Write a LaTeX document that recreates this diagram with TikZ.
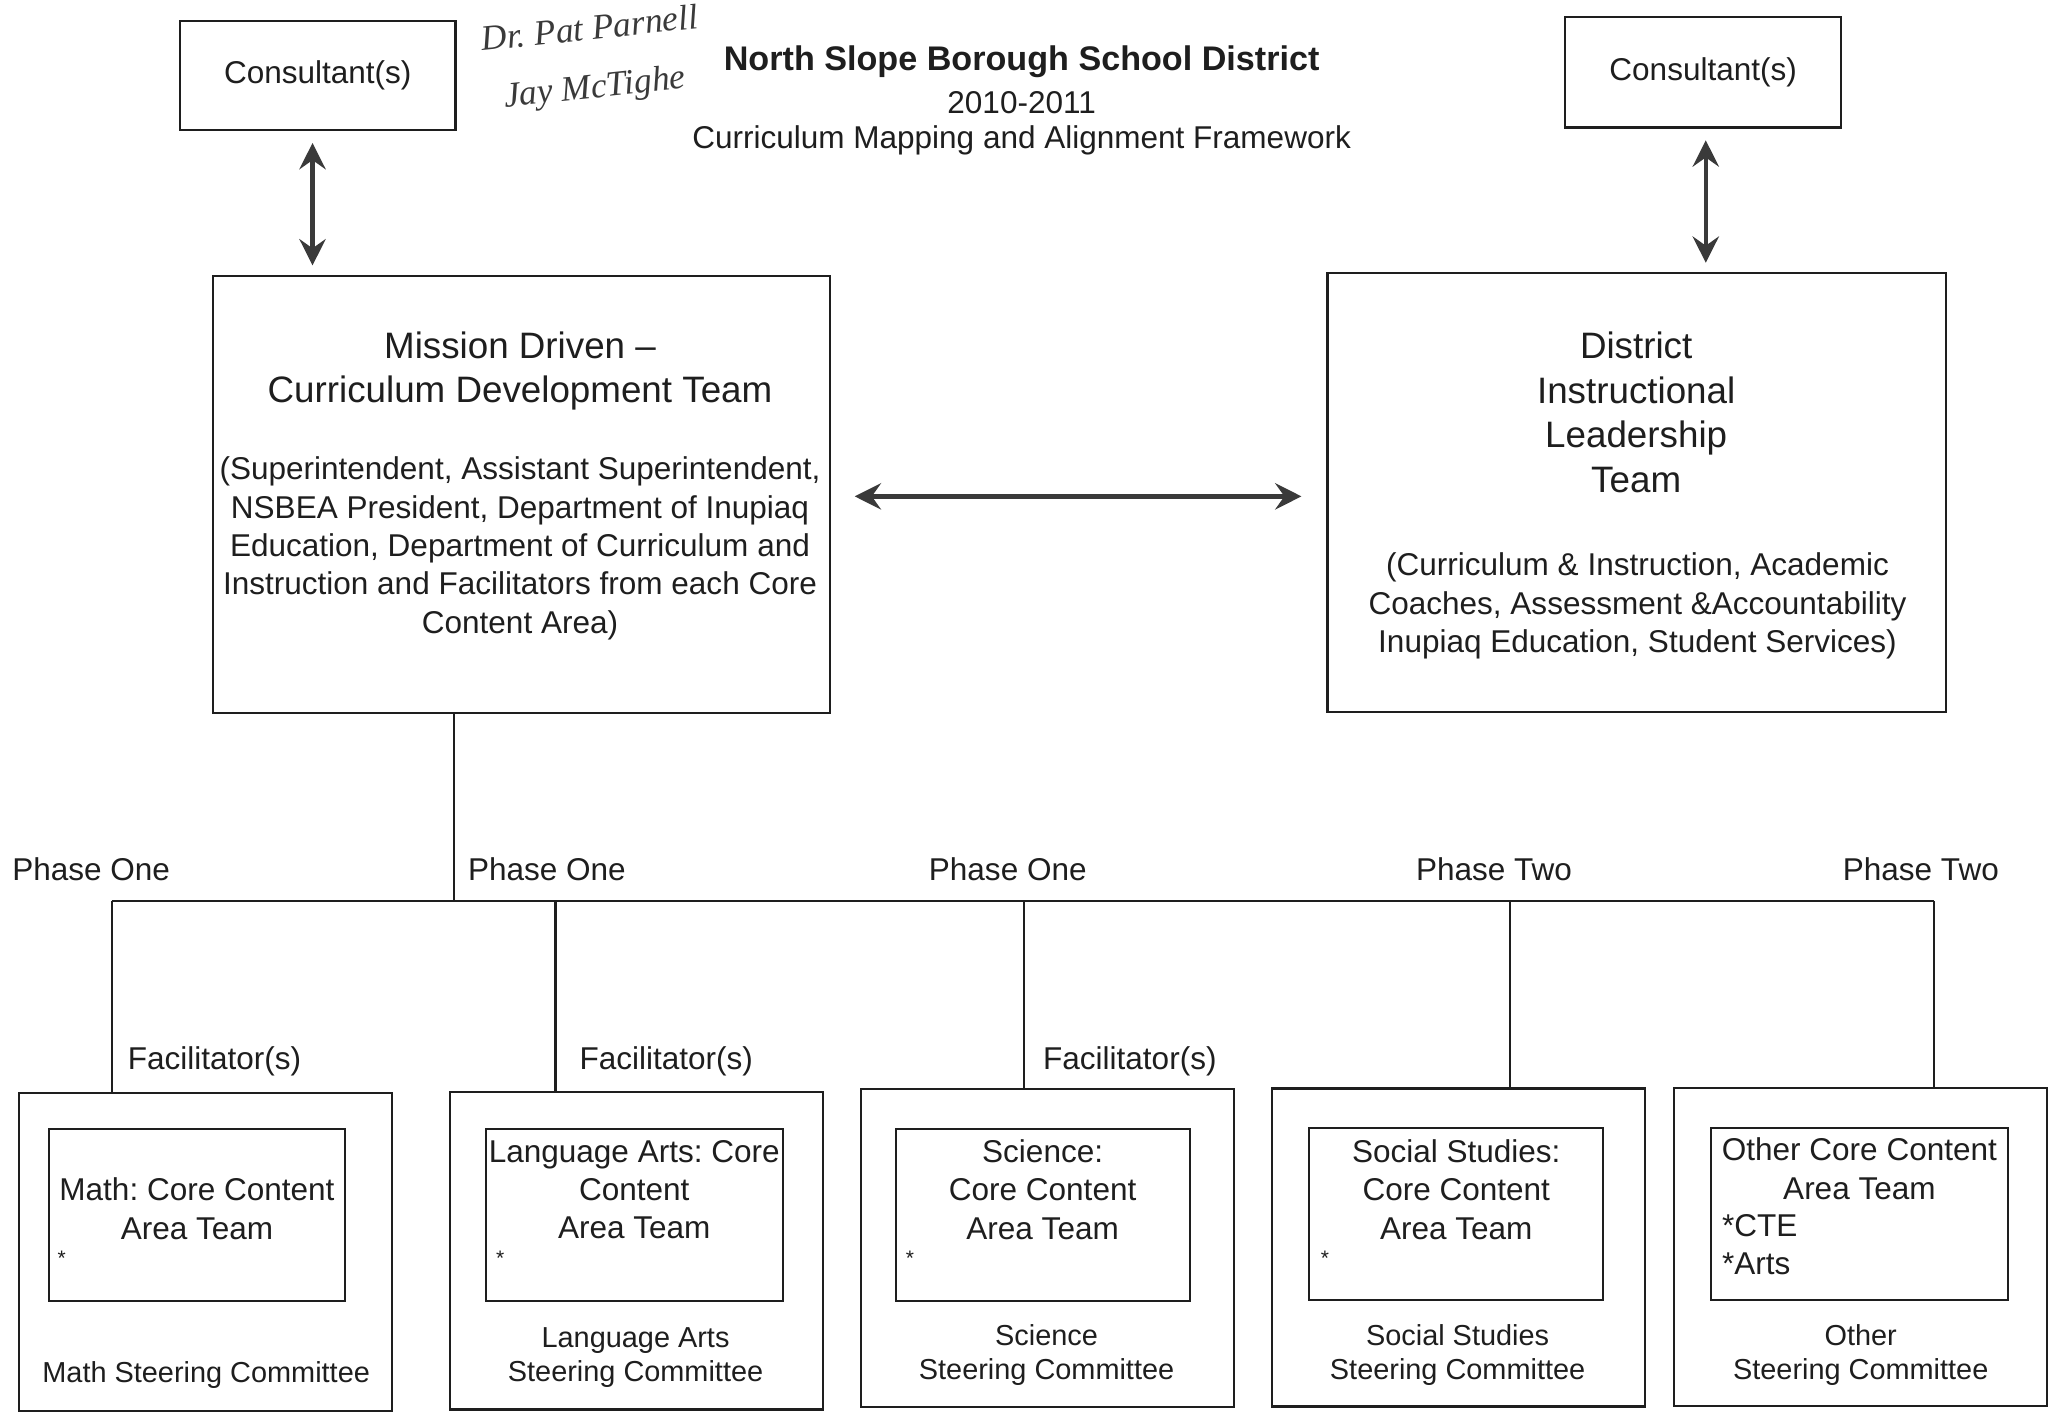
\documentclass[tikz,border=0pt]{standalone}
\usepackage{fontspec}
\setmainfont{Liberation Sans}
\newfontfamily\handfont{Liberation Serif}
\usetikzlibrary{arrows.meta}
\frenchspacing

\definecolor{ink}{HTML}{1E1E1E}
\definecolor{pen}{HTML}{3A3A3A}

\begin{document}
\begin{tikzpicture}[x=0.5pt,y=-0.5pt,
  every node/.style={text=ink},
  box/.style={draw=ink, line width=0.9pt, inner sep=0pt, rectangle},
  link/.style={draw=ink, line width=0.8pt},
  tip/.tip={Stealth[length=10pt,width=10pt,inset=3.5pt]},
  dbl/.style={draw=pen, line width=1.7pt, tip-tip},
  txt/.style={font=\fontsize{12}{14.6}\selectfont, align=center, inner sep=0pt},
  big/.style={font=\fontsize{14}{17}\selectfont, align=center, inner sep=0pt},
  small/.style={font=\fontsize{11}{13}\selectfont, align=center, inner sep=0pt},
  star/.style={font=\fontsize{8}{8}\selectfont, inner sep=0pt},
  hand/.style={font=\handfont\itshape\fontsize{13.5}{15}\selectfont, text=pen, inner sep=0pt},
  outerbox/.style={box, minimum width=142pt, minimum height=121pt},
  innerbox/.style={box, line width=0.8pt, minimum width=113pt, minimum height=65.5pt},
]
\fill[white] (0,0) rectangle (1568,1080);
\useasboundingbox (0,0) rectangle (1568,1080);

% heading
\node[font=\bfseries\fontsize{13}{15}\selectfont, inner sep=0pt] (title) at (778,47) {North Slope Borough School District};
\node[txt] (years) at (778,78) {2010-2011};
\node[txt] (subtitle) at (778,107) {Curriculum Mapping and Alignment Framework};

% handwritten note
\node[hand, rotate=6] (note1) at (449,21) {Dr. Pat Parnell};
\node[hand, rotate=6] (note2) at (453,68) {Jay McTighe};

% consultants
\node[box, txt, minimum width=105pt, minimum height=41.5pt] (consL) at (242,57.5) {Consultant(s)};
\node[box, txt, minimum width=105pt, minimum height=42pt] (consR) at (1297,55) {Consultant(s)};

% leadership teams
\node[box, minimum width=235pt, minimum height=166.5pt] (mission) at (397,376.5) {};
\node[big] (missionTitle) at (396,282.5) {Mission Driven –\\Curriculum Development Team};
\node[txt] (missionMembers) at (396,417.5) {(Superintendent, Assistant Superintendent,\\NSBEA President, Department of Inupiaq\\Education, Department of Curriculum and\\Instruction and Facilitators from each Core\\Content Area)};

\node[box, minimum width=235.5pt, minimum height=167pt] (district) at (1246.5,375) {};
\node[big] (districtTitle) at (1246,314) {District\\Instructional\\Leadership\\Team};
\node[txt] (districtMembers) at (1247,461.5) {(Curriculum \& Instruction, Academic\\Coaches, Assessment \&Accountability\\Inupiaq Education, Student Services)};

% arrows between teams and consultants
\draw[dbl, shorten <=4.5pt, shorten >=3.5pt] ([xshift=-2pt]consL.south) -- ([xshift=-2pt]consL.south |- mission.north);
\draw[dbl, shorten <=4.5pt, shorten >=3.5pt] ([xshift=1pt]consR.south) -- ([xshift=1pt]consR.south |- district.north);
\draw[dbl, shorten <=9pt, shorten >=9.5pt] ([yshift=-0.75pt]mission.east) -- ([yshift=-0.75pt]mission.east -| district.west);

% steering committees
\node[outerbox] (mathBox) at (156.5,953.5) {};
\node[outerbox] (laBox) at (484.5,952.5) {};
\node[outerbox] (sciBox) at (797.5,950.5) {};
\node[outerbox] (ssBox) at (1110.5,950) {};
\node[outerbox] (otherBox) at (1417,949.5) {};

\node[innerbox] (mathTeam) at (150,925.5) {};
\node[innerbox] (laTeam) at (483,925.5) {};
\node[innerbox, minimum width=112pt] (sciTeam) at (794,925.5) {};
\node[innerbox, minimum width=112pt] (ssTeam) at (1109,924.5) {};
\node[innerbox] (otherTeam) at (1416,924.5) {};

\node[txt] (mathTeamText) at (150,920.5) {Math: Core Content\\Area Team};
\node[txt] (laTeamText) at (483,906) {Language Arts: Core\\Content\\Area Team};
\node[txt] (sciTeamText) at (794,906) {Science:\\Core Content\\Area Team};
\node[txt] (ssTeamText) at (1109,906) {Social Studies:\\Core Content\\Area Team};
\node[txt] (otherTeamText) at (1416,890) {Other Core Content\\Area Team};
\node[txt, align=left, anchor=west] (otherItems) at (1311,948) {*CTE\\*Arts};

\node[star] (mathStar) at (47,958) {*};
\node[star] (laStar) at (381,958) {*};
\node[star] (sciStar) at (693,958) {*};
\node[star] (ssStar) at (1009,958) {*};

\node[small] (mathCom) at (157,1047) {Math Steering Committee};
\node[small] (laCom) at (484,1034) {Language Arts\\Steering Committee};
\node[small] (sciCom) at (797,1032) {Science\\Steering Committee};
\node[small] (ssCom) at (1110,1032) {Social Studies\\Steering Committee};
\node[small] (otherCom) at (1417,1032) {Other\\Steering Committee};

% distribution lines
\coordinate (jm) at (346,686);
\coordinate (j1) at (85,686);
\coordinate (j2) at (423,686);
\coordinate (j3) at (780,686);
\coordinate (j4) at (1150,686);
\coordinate (j5) at (1473,686);
\draw[link] (mission.south -| jm) -- (jm);
\draw[link] (j1) -- (j5);
\draw[link] (j1) -- (j1 |- mathBox.north);
\draw[link] (j2) -- (j2 |- laBox.north);
\draw[link] (j3) -- (j3 |- sciBox.north);
\draw[link] (j4) -- (j4 |- ssBox.north);
\draw[link] (j5) -- (j5 |- otherBox.north);

% phase and facilitator labels
\node[txt, anchor=west] (phase1) at (9,662) {Phase One};
\node[txt, anchor=west] (phase2) at (356,662) {Phase One};
\node[txt, anchor=west] (phase3) at (707,662) {Phase One};
\node[txt, anchor=west] (phase4) at (1078,662) {Phase Two};
\node[txt, anchor=west] (phase5) at (1403,662) {Phase Two};

\node[txt, anchor=west] (fac1) at (97,808) {Facilitator(s)};
\node[txt, anchor=west] (fac2) at (441,808) {Facilitator(s)};
\node[txt, anchor=west] (fac3) at (794,808) {Facilitator(s)};

\end{tikzpicture}
\end{document}
